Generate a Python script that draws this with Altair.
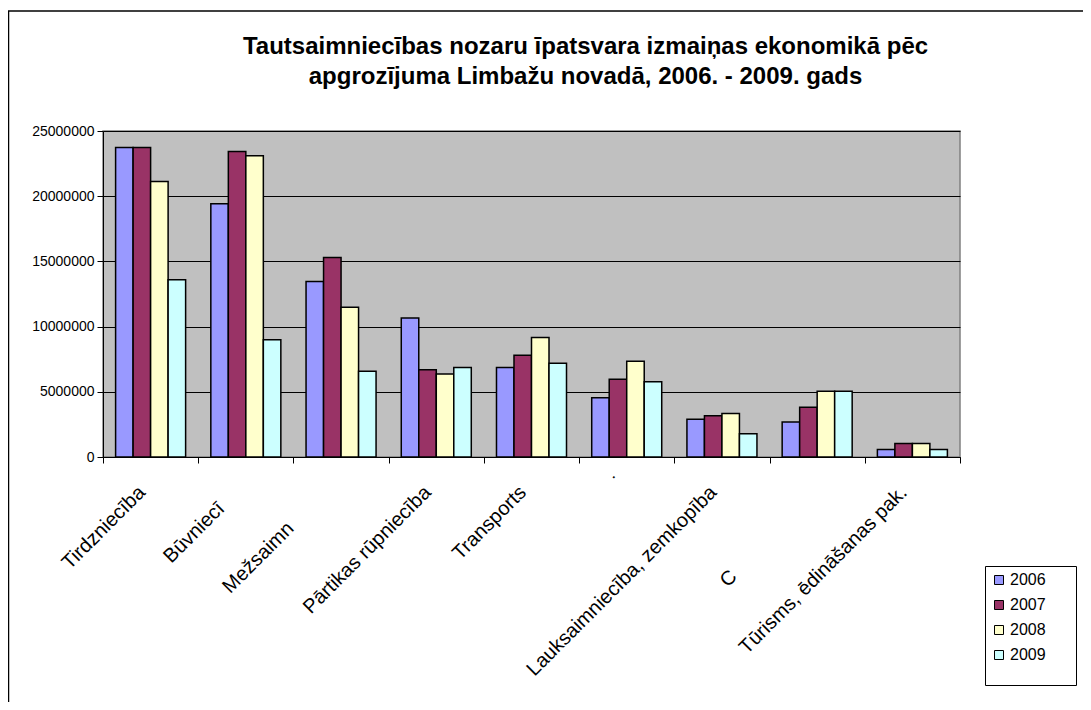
import altair as alt
import pandas as pd

categories = [
    "Tirdzniecība",
    "Būvniecī",
    "Mežsaimn",
    "Pārtikas rūpniecība",
    "Transports",
    "˙",
    "Lauksaimniecība, zemkopība",
    "C",
    "Tūrisms, ēdināšanas pak.",
]
years = ["2006", "2007", "2008", "2009"]
v2006 = [23730000, 19430000, 13450000, 10660000, 6860000, 4550000, 2890000, 2680000, 570000]
v2007 = [23730000, 23420000, 15290000, 6700000, 7800000, 5960000, 3170000, 3810000, 1030000]
v2008 = [21120000, 23110000, 11480000, 6370000, 9160000, 7340000, 3330000, 5040000, 1030000]
v2009 = [13600000, 9000000, 6570000, 6860000, 7190000, 5780000, 1790000, 5040000, 570000]
colors = ["#9999FF", "#993366", "#FFFFCC", "#CCFFFF"]
y_ticks = [0, 5000000, 10000000, 15000000, 20000000, 25000000]
title_lines = [
    "Tautsaimniecības nozaru īpatsvara izmaiņas ekonomikā pēc",
    "apgrozījuma Limbažu novadā, 2006. - 2009. gads",
]

rows = []
for yr, vals in zip(years, [v2006, v2007, v2008, v2009]):
    for c, v in zip(categories, vals):
        rows.append({"category": c, "year": yr, "value": v})
df = pd.DataFrame(rows)

FONT = "Liberation Sans"
BLANK = "\u2800"

label_offset = {
    "condition": [
        {"test": "datum.value === 'Būvniecī'", "value": -25},
        {"test": "datum.value === 'Mežsaimn'", "value": -51},
        {"test": "datum.value === '˙'", "value": -5},
        {"test": "datum.value === 'C'", "value": -84},
    ],
    "value": -9,
}
label_padding = {
    "condition": [
        {"test": "datum.value === 'Būvniecī'", "value": 42},
        {"test": "datum.value === 'Mežsaimn'", "value": 62},
        {"test": "datum.value === '˙'", "value": 16},
        {"test": "datum.value === 'C'", "value": 110},
    ],
    "value": 26,
}

bars = alt.Chart(df).mark_bar(stroke="black", strokeWidth=1.5).encode(
    x=alt.X(
        "category:N",
        sort=categories,
        scale=alt.Scale(paddingInner=0, paddingOuter=0),
        axis=alt.Axis(
            title=None, labelAngle=-45, labelAlign="right", labelBaseline="middle",
            labelFontSize=20, labelFont=FONT, labelColor="black",
            labelPadding=label_padding, labelOffset=label_offset,
            labelLimit=400, labelOverlap=False, tickBand="extent",
            tickSize=6, tickColor="black", domainColor="black", grid=False,
        ),
    ),
    xOffset=alt.XOffset("year:N", scale=alt.Scale(paddingInner=0, paddingOuter=0.72)),
    y=alt.Y(
        "value:Q",
        scale=alt.Scale(domain=[0, 25000000], nice=False),
        axis=alt.Axis(
            title=None, values=y_ticks, format="d", grid=True, gridColor="black",
            gridWidth=1, gridOpacity=1, tickSize=6, tickColor="black", labelPadding=3,
            labelFontSize=14, labelFont=FONT, labelColor="black", domainColor="black",
        ),
    ),
    color=alt.Color(
        "year:N",
        scale=alt.Scale(domain=years, range=colors),
        legend=alt.Legend(
            title=BLANK, titleOrient="bottom", titleFontSize=14, titlePadding=2,
            orient="none", legendX=882, legendY=435,
            strokeColor="black", fillColor="white", padding=6,
            labelFontSize=16, labelFont=FONT, labelColor="black",
            symbolType="square", symbolSize=81, symbolStrokeColor="black",
            symbolStrokeWidth=1, symbolOpacity=1, rowPadding=9, labelOffset=3,
            labelExpr="datum.label + '" + BLANK * 2 + "'",
        ),
    ),
)

frame_data = pd.DataFrame({"a": [0]})
frame_v = alt.Chart(frame_data).mark_rule(color="black", strokeWidth=1.5).encode(
    x=alt.value(-94.5), y=alt.value(-120), y2=alt.value(700)
)
frame_h = alt.Chart(frame_data).mark_rule(color="black", strokeWidth=1.5).encode(
    x=alt.value(-95), x2=alt.value(1100), y=alt.value(-120)
)

chart = alt.layer(bars, frame_v, frame_h).properties(
    width=857,
    height=326,
    autosize=alt.AutoSizeParams(type="none"),
    padding={"left": 95, "top": 123, "right": 123, "bottom": 245},
    title=alt.TitleParams(
        text=title_lines, fontSize=24, font=FONT, fontWeight="bold", color="black",
        anchor="middle", frame="group", dx=54, dy=119, offset=40, lineHeight=30,
    ),
).configure(background="white", font=FONT).configure_view(
    fill="#C0C0C0", stroke="#808080", strokeWidth=1.5
)

chart.save("out.html", embed_options={"renderer": "svg", "actions": False})
